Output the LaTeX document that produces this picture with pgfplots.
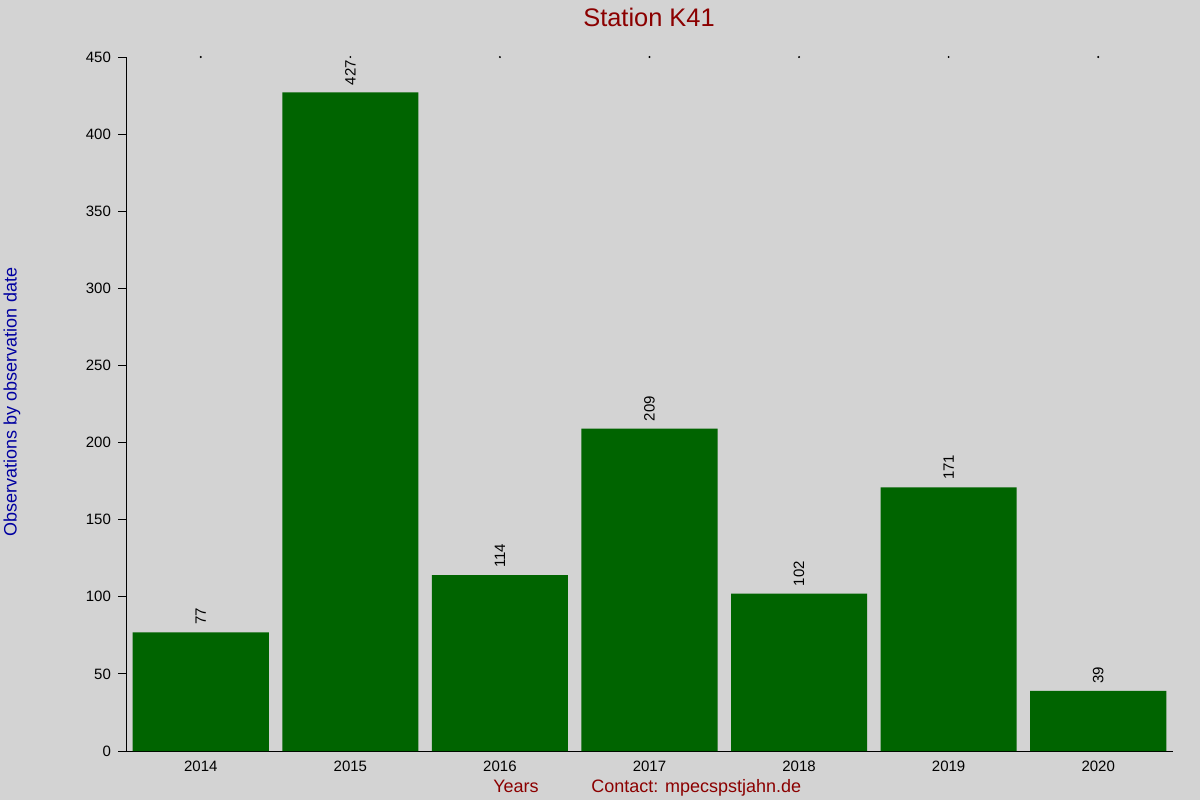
\documentclass[border=0pt]{standalone}
\usepackage{fontspec}
\setmainfont{Liberation Sans}
\usepackage{pgfplots}
\pgfplotsset{compat=1.18}
\definecolor{bg}{HTML}{D3D3D3}
\definecolor{bargreen}{HTML}{006400}
\definecolor{titlered}{HTML}{8B0000}
\definecolor{labelblue}{HTML}{0000A0}
\begin{document}
\begin{tikzpicture}
  % canvas: 1px = 0.5pt, 1200x800 px
  \fill[bg] (0,0) rectangle (600pt,400pt);
  \useasboundingbox (0,0) rectangle (600pt,400pt);
  \begin{axis}[
      at={(63pt,24.5pt)}, anchor=south west,
      scale only axis,
      width=523.5pt, height=347pt,
      xmin=-0.5, xmax=6.5,
      ymin=0, ymax=450,
      axis x line=bottom, axis y line=left,
      axis line style={-, line width=0.5pt},
      xtick={0,...,6},
      xticklabels={2014,2015,2016,2017,2018,2019,2020},
      x tick style={draw=none},
      xticklabel style={yshift=2.5pt},
      ytick={0,50,...,450},
      tick align=outside,
      major tick length=4pt,
      y tick style={line width=0.5pt, black},
      tick label style={font=\fontsize{7.5}{9}\selectfont},
      /pgf/number format/assume math mode=true,
      /pgf/number format/1000 sep={},
      clip=false,
    ]
    \addplot[ybar, bar width=0.91, fill=bargreen, draw=none,
      nodes near coords,
      every node near coord/.append style={rotate=90, anchor=west,
        inner sep=3.5pt, font=\fontsize{7.5}{9}\selectfont, black}]
      coordinates {(0,77) (1,427) (2,114) (3,209) (4,102) (5,171) (6,39)};
    \addplot[only marks, mark=*, mark size=0.25pt, black]
      coordinates {(0,450) (1,450) (2,450) (3,450) (4,450) (5,450) (6,450)};
  \end{axis}
  \node[anchor=base, text=titlered, font=\fontsize{12.7}{15}\selectfont, inner sep=0pt]
    at (324.5pt,386.5pt) {Station K41};
  \node[anchor=base, text=titlered, font=\fontsize{9}{11}\selectfont, inner sep=0pt]
    at (258pt,4pt) {Years};
  \node[anchor=base west, text=titlered, font=\fontsize{9}{11}\selectfont, inner sep=0pt]
    at (295.5pt,4pt) {Contact: mpecspstjahn.de};
  \node[rotate=90, text=labelblue, font=\fontsize{9}{11}\selectfont, inner sep=0pt]
    at (6pt,199pt) {Observations by observation date};
\end{tikzpicture}
\end{document}
